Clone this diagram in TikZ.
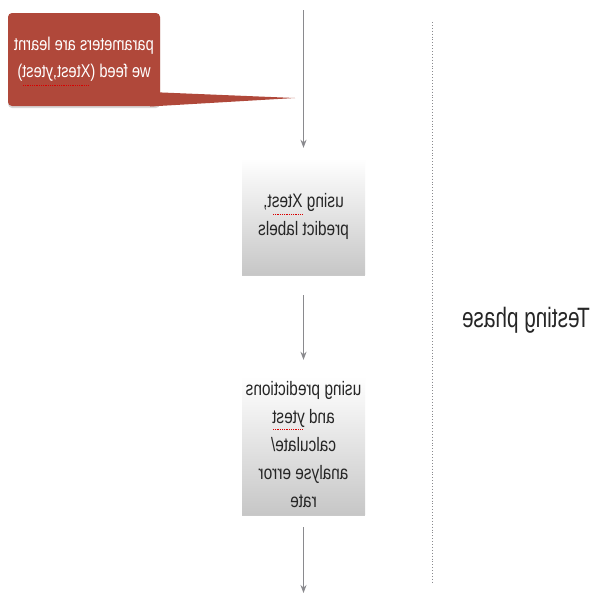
\documentclass[tikz,border=0pt]{standalone}
\usepackage{fontspec}
\setmainfont{Liberation Sans}
\newfontfamily\condfont[FakeStretch=0.79]{Liberation Sans}
\newfontfamily\phasefont[FakeStretch=0.74]{Liberation Sans}
\usetikzlibrary{shadows,arrows.meta}
\definecolor{calloutred}{HTML}{B0483A}
\definecolor{linegray}{HTML}{8A8A8E}
\tikzset{
  stepbox/.style={draw=none, shade, top color=white, bottom color=black!22,
    minimum width=123pt, align=center, xscale=-1, text=black!85,
    font=\condfont\fontsize{19.5}{28}\selectfont,
    drop shadow={shadow xshift=0pt, shadow yshift=-2pt, opacity=0.35, fill=black!60}},
  flow/.style={draw=linegray, line width=0.9pt, -{Stealth[length=8pt,width=6pt]}},
  squiggle/.style={draw=red!85!black, line width=0.8pt, densely dotted},
}
\begin{document}
\begin{tikzpicture}[x=1pt,y=-1pt]
\fill[white] (0,0) rectangle (600,600);
\useasboundingbox (0,0) rectangle (600,600);
% callout
\node (callout) [fill=calloutred, rounded corners=4pt, minimum width=152pt, minimum height=93pt,
  xscale=-1, text=white, align=center, font=\condfont\fontsize{18.5}{27}\selectfont,
  drop shadow={shadow xshift=0pt, shadow yshift=-2pt, opacity=0.3}]
  at (84,59.5) {parameters are learnt\\we feed (Xtest,ytest)};
\fill[calloutred] (150,92) -- (295,98) -- (150,106.5) -- cycle;
% boxes
\node (b1) [stepbox, minimum height=116pt] at (303.5,216) {using Xtest,\\predict labels};
\node (b2) [stepbox, minimum height=138pt] at (303.5,445) {using predictions\\and ytest\\calculate/\\analyse error\\rate};
% connectors
\coordinate (top) at (303.5,10);
\coordinate (bot) at (303.5,593);
\draw[flow] (top) -- ([yshift=10pt]b1.north);
\draw[flow] ([yshift=-21pt]b1.south) -- ([yshift=16pt]b2.north);
\draw[flow] ([yshift=-13pt]b2.south) -- (bot);
% spell-check squiggles
\draw[squiggle] (23,85) -- (88,85);
\draw[squiggle] (273,214) -- (302,214);
\draw[squiggle] (273,429) -- (303,429);
% phase separator
\coordinate (sepTop) at (432,22);
\coordinate (sepBot) at (432,582);
\draw[linegray, line width=0.9pt, dotted] (sepTop) -- (sepBot);
\node (phase) [xscale=-1, font=\phasefont\fontsize{28}{32}\selectfont, text=black!85] at (526,320) {Testing phase};
\end{tikzpicture}
\end{document}
